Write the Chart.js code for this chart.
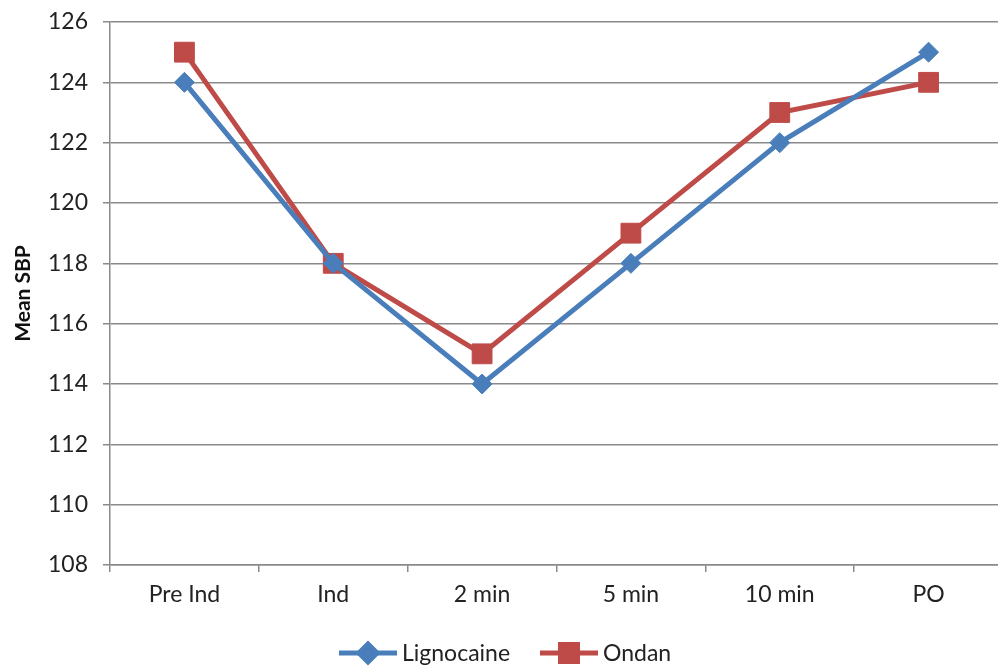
<!DOCTYPE html>
<html>
<head>
<meta charset="utf-8">
<script src="https://cdn.jsdelivr.net/npm/chart.js@4/dist/chart.umd.min.js"></script>
<style>
  body { margin: 0; background: #fff; overflow: hidden; }
</style>
</head>
<body>
<canvas id="c" width="1018" height="666"></canvas>
<script>
const categories = ["Pre Ind", "Ind", "2 min", "5 min", "10 min", "PO"];
const lignocaine = [124, 118, 114, 118, 122, 125];
const ondan = [125, 118, 115, 119, 123, 124];
const yMin = 108, yMax = 126, yStep = 2;

const gridGray = "#8a8a8a";
const fontFamily = "Lato, 'Open Sans', sans-serif";

// legend drawn by hand so the line + marker look like the original
const bottomLegend = {
  id: "bottomLegend",
  afterDraw(chart) {
    const ctx = chart.ctx;
    const y = 653;
    const items = [
      { ds: chart.data.datasets[0], x: 339 },
      { ds: chart.data.datasets[1], x: 540 },
    ];
    ctx.save();
    items.forEach(({ ds, x }) => {
      ctx.strokeStyle = ds.borderColor;
      ctx.lineWidth = 5;
      ctx.beginPath();
      ctx.moveTo(x, y);
      ctx.lineTo(x + 58, y);
      ctx.stroke();
      Chart.helpers.drawPoint(ctx, {
        pointStyle: ds.pointStyle,
        radius: ds.pointStyle === "rect" ? 12 : 9,
        borderWidth: 1,
      }, x + 29, y);
      ctx.fillStyle = ds.borderColor;
      ctx.fill();
      ctx.fillStyle = "#222";
      ctx.font = "23px " + fontFamily;
      ctx.textBaseline = "middle";
      ctx.fillText(ds.label, x + 63, y + 1);
    });
    ctx.restore();
  },
};

new Chart(document.getElementById("c"), {
  type: "line",
  data: {
    labels: categories,
    datasets: [
      {
        label: "Lignocaine",
        data: lignocaine,
        borderColor: "#4a7ebb",
        backgroundColor: "#4a7ebb",
        borderWidth: 5,
        pointStyle: "rectRot",
        pointRadius: 10,
        pointBorderWidth: 1,
        tension: 0,
      },
      {
        label: "Ondan",
        data: ondan,
        borderColor: "#be4b48",
        backgroundColor: "#be4b48",
        borderWidth: 5,
        pointStyle: "rect",
        pointRadius: 14,
        pointBorderWidth: 1,
        tension: 0,
      },
    ],
  },
  options: {
    responsive: false,
    animation: false,
    layout: { padding: { top: 22, left: 0, right: 0, bottom: 0 } },
    plugins: {
      legend: { display: false },
      tooltip: { enabled: false },
    },
    scales: {
      x: {
        offset: true,
        afterFit: (s) => {
          s.height = 101;
          s.paddingLeft = 0;
          s.paddingRight = 0;
        },
        grid: {
          offset: true,
          drawOnChartArea: false,
          drawTicks: true,
          tickLength: 7,
          color: gridGray,
          lineWidth: 1.5,
        },
        border: { color: gridGray, width: 1.5 },
        ticks: {
          color: "#222",
          padding: 9,
          maxRotation: 0,
          font: { family: fontFamily, size: 23 },
        },
      },
      y: {
        min: yMin,
        max: yMax,
        afterFit: (s) => {
          s.width = 110;
          s.paddingTop = 0;
          s.paddingBottom = 0;
        },
        grid: {
          color: gridGray,
          lineWidth: 1.5,
          drawTicks: true,
          tickLength: 7,
        },
        border: { color: gridGray, width: 1.5 },
        ticks: {
          stepSize: yStep,
          color: "#222",
          padding: 15,
          font: { family: fontFamily, size: 23 },
        },
        title: {
          display: true,
          text: "Mean SBP",
          color: "#111",
          padding: { top: 11, bottom: 0 },
          font: { family: fontFamily, size: 21, weight: "bold" },
        },
      },
    },
  },
  plugins: [bottomLegend],
});
</script>
</body>
</html>
